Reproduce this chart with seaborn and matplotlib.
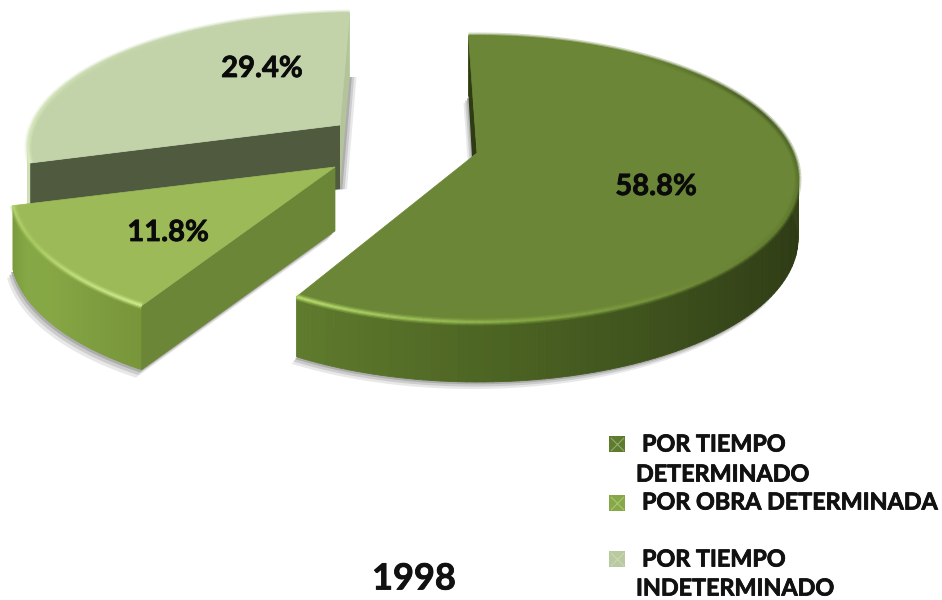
import numpy as np
import matplotlib
matplotlib.use('Agg')
import matplotlib.pyplot as plt
import matplotlib.patheffects as pe
from matplotlib.collections import LineCollection, PolyCollection
from matplotlib.patches import Polygon
import seaborn as sns

# Data
year = '1998'
shares = [58.8, 11.8, 29.4]
share_labels = ['58.8%', '11.8%', '29.4%']
legend_lines = [['POR TIEMPO', 'DETERMINADO'], ['POR OBRA DETERMINADA'], ['POR TIEMPO', 'INDETERMINADO']]

# Look of each slice (pixel layout of the exploded pie)
centers = [(478, 179), (327, 189), (359, 147.5)]
radii = [(320, 143), (316, 144), (331, 134.5)]
apexes = [(477, 153), (335, 167), (340, 125)]
shifts = [0.08, 0.1, 0.1]
depths = [60, 64, 64]
top_colors = ['#6b8636', '#9cba58', '#c3d3a9']
side_stops = [['#5f7b2d', '#4a6122', '#38491a', '#2d3913', '#46591f', '#46591f', '#46591f'],
              ['#7a9a3c', '#85a745', '#87a745', '#7f9e40', '#789639'],
              ['#c3d3a9', '#d0e0b4']]
glow_stops = [['#b4da6c', '#86a845', '#6b8636', '#5f7a2e', '#4a5f25', '#6b8636', '#6b8636'],
              ['#b5d571', '#a9cb63', '#c2e07e', '#d0ea8c'],
              ['#c3d3a9', '#c8d8ae', '#dcecc0']]
shadow_shift = [(-5, 7), (-6, 8), (7, 0)]

sns.set_theme(style='white')
plt.rcParams['font.family'] = ['Lato', 'DejaVu Sans']

fig = plt.figure(figsize=(9.42, 6.0), dpi=100)
ax = fig.add_axes([0, 0, 1, 1])

# the pie gives the angles, the 3D look is built on them
wedges, _ = ax.pie(shares, startangle=92, counterclock=False)
spans = [(w.theta1, w.theta2) for w in wedges]
for w in wedges:
    w.remove()
ax.set_aspect('auto')
ax.set_xlim(0, 942)
ax.set_ylim(600, 0)
ax.axis('off')


def rim(i, n=160):
    th = np.radians(np.linspace(spans[i][0], spans[i][1], n))
    z = np.exp(1j * th)
    # small perspective shift of the angles
    e = 1j * shifts[i]
    t = np.unwrap(np.angle((z + e) / (1 - e * z)))
    cx, cy = centers[i]
    rx, ry = radii[i]
    return np.column_stack([cx + rx * np.cos(t), cy - ry * np.sin(t)])


def draw_slice(i):
    arc = rim(i)
    apex = np.array(apexes[i], dtype=float)
    down = np.array([0, depths[i]])
    face = np.vstack([apex, arc])
    base = i * -10

    # soft shadow below the bottom face
    dx, dy = shadow_shift[i]
    for k, col in zip([1.0, 0.66, 0.33], ['#e8e8e8', '#cccccc', '#adadad']):
        ax.add_patch(Polygon(face + down + np.array([dx * k, dy * k]), closed=True, fc=col, ec='none', zorder=base + 1))

    # outer wall, one strip per arc step
    quads = [[arc[j], arc[j + 1], arc[j + 1] + down, arc[j] + down] for j in range(len(arc) - 1)]
    side_cols = sns.blend_palette(side_stops[i], n_colors=len(quads))
    ax.add_collection(PolyCollection(quads, facecolors=side_cols, edgecolors=side_cols, linewidths=0.6, zorder=base + 2))

    # cut faces
    if i == 0:
        ax.add_patch(Polygon([arc[-1], apex, apex + [-5, 4], arc[-1] + down], closed=True, fc='#2f3c13', ec='none', zorder=base + 3))
    if i == 1:
        ax.add_patch(Polygon([arc[-1], apex, apex + down, arc[-1] + down], closed=True, fc='#6c8638', ec='#6c8638', lw=0.5, zorder=base + 3))
    if i == 2:
        ax.add_patch(Polygon([arc[0], apex, apex + down, arc[0] + down], closed=True, fc='#b4c49a', ec='none', zorder=base + 3))
        ax.add_patch(Polygon([arc[-1], apex, apex + down, arc[-1] + down], closed=True, fc='#4f5a3f', ec='none', zorder=base + 3))

    # top face with its soft bevel along the rim
    ax.add_patch(Polygon(face, closed=True, fc=top_colors[i], ec=top_colors[i], lw=0.5, zorder=base + 4))
    segs = np.stack([arc[:-1], arc[1:]], axis=1)
    glow = sns.blend_palette(glow_stops[i], n_colors=len(segs))
    for lw, a in zip([5, 3, 1.5], [0.3, 0.5, 0.9]):
        ax.add_collection(LineCollection(segs, colors=glow, linewidths=lw, alpha=a, zorder=base + 5))


for i in range(3):
    draw_slice(i)

# Slice labels
heavy = [pe.withStroke(linewidth=0.6, foreground='#111111')]
label_pos = [(656, 187), (168, 233), (262, 69)]
for (x, y), txt in zip(label_pos, share_labels):
    ax.text(x, y, txt, ha='center', va='center', fontsize=21, fontweight='bold', color='#0a0a0a', zorder=20, path_effects=heavy)

ax.text(414, 579, year, ha='center', va='center', fontsize=26, fontweight='bold', color='#111111', zorder=20, path_effects=heavy)

# Legend
legend_marker_y = [444, 503, 559]
legend_text_y = [[445, 475], [503], [560, 589]]
legend_colors = ['#5f7b2d', '#86a846', '#b9c9a0']
for my, lines, ys, col in zip(legend_marker_y, legend_lines, legend_text_y, legend_colors):
    ax.scatter([617], [my], marker='s', s=125, color=col, linewidths=0, zorder=20)
    ax.scatter([617], [my], marker='x', s=90, color='#e6eed2', linewidths=0.8, alpha=0.4, zorder=21)
    for k, (line, y) in enumerate(zip(lines, ys)):
        ax.text(642 if k == 0 else 636, y, line, ha='left', va='center', fontsize=16.8, fontweight='bold', color='#111111', zorder=20, path_effects=heavy)

fig.savefig('out.png', dpi=100)
